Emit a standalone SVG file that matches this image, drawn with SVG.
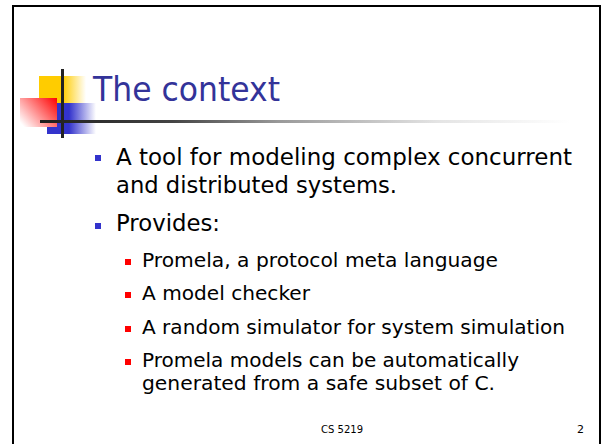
<svg xmlns="http://www.w3.org/2000/svg" width="602" height="444" viewBox="0 0 602 444">
  <style>
    .title { font-family: "DejaVu Sans", Tahoma, sans-serif; font-size: 33px; fill: #333399; }
    .l1 { font-family: "DejaVu Sans", Tahoma, sans-serif; font-size: 23px; fill: #000; }
    .l2 { font-family: "DejaVu Sans", Tahoma, sans-serif; font-size: 20px; fill: #000; }
    .foot { font-family: "DejaVu Sans", Tahoma, sans-serif; font-size: 11px; fill: #000; }
    .b1 { fill: #3333cc; }
    .b2 { fill: #ff0000; }
  </style>
  <defs>
    <linearGradient id="gYellow" gradientUnits="userSpaceOnUse" x1="39" y1="0" x2="86" y2="0">
      <stop offset="0" stop-color="#ffcc00"/>
      <stop offset="0.5" stop-color="#ffcc00"/>
      <stop offset="1" stop-color="#ffffff"/>
    </linearGradient>
    <linearGradient id="gBlue" gradientUnits="userSpaceOnUse" x1="47" y1="0" x2="96" y2="0">
      <stop offset="0" stop-color="#3333cc"/>
      <stop offset="0.45" stop-color="#3333cc"/>
      <stop offset="1" stop-color="#ffffff"/>
    </linearGradient>
    <linearGradient id="gRed" gradientUnits="userSpaceOnUse" x1="57" y1="98" x2="24" y2="127">
      <stop offset="0" stop-color="#ff0000"/>
      <stop offset="1" stop-color="#ffffff"/>
    </linearGradient>
    <linearGradient id="gRule" gradientUnits="userSpaceOnUse" x1="40" y1="0" x2="570" y2="0">
      <stop offset="0" stop-color="#1e1e1e"/>
      <stop offset="0.25" stop-color="#444444"/>
      <stop offset="0.45" stop-color="#999999"/>
      <stop offset="0.75" stop-color="#e4e4e4"/>
      <stop offset="1" stop-color="#ffffff"/>
    </linearGradient>
  </defs>

  <rect width="602" height="444" fill="#ffffff"/>

  <!-- slide frame, open at the bottom -->
  <path id="frame" d="M13 444 V6 H600 V444" fill="none" stroke="#000" stroke-width="2"/>

  <!-- title ornament -->
  <g id="ornament">
    <rect x="39" y="76" width="47" height="27" fill="url(#gYellow)"/>
    <rect x="47" y="103" width="49" height="31" fill="url(#gBlue)"/>
    <rect x="20" y="98" width="37" height="29" fill="url(#gRed)"/>
    <rect x="61" y="69" width="3" height="69" fill="#222"/>
    <rect x="40" y="120" width="530" height="3" fill="url(#gRule)"/>
  </g>

  <g id="title">
    <text class="title" x="93" y="101" textLength="187" lengthAdjust="spacingAndGlyphs">The context</text>
  </g>

  <g id="bullets">
    <rect class="b1" x="95" y="155" width="6" height="6"/>
    <text class="l1" x="116" y="165" textLength="456" lengthAdjust="spacingAndGlyphs">A tool for modeling complex concurrent</text>
    <text class="l1" x="116" y="193" textLength="281" lengthAdjust="spacingAndGlyphs">and distributed systems.</text>

    <rect class="b1" x="95" y="223" width="6" height="6"/>
    <text class="l1" x="116" y="231" textLength="104" lengthAdjust="spacingAndGlyphs">Provides:</text>

    <rect class="b2" x="125" y="259" width="6" height="6"/>
    <text class="l2" x="142" y="267" textLength="356" lengthAdjust="spacingAndGlyphs">Promela, a protocol meta language</text>

    <rect class="b2" x="125" y="292" width="6" height="6"/>
    <text class="l2" x="142" y="300" textLength="168" lengthAdjust="spacingAndGlyphs">A model checker</text>

    <rect class="b2" x="125" y="326" width="6" height="6"/>
    <text class="l2" x="142" y="334" textLength="423" lengthAdjust="spacingAndGlyphs">A random simulator for system simulation</text>

    <rect class="b2" x="125" y="359" width="6" height="6"/>
    <text class="l2" x="142" y="367" textLength="377" lengthAdjust="spacingAndGlyphs">Promela models can be automatically</text>
    <text class="l2" x="142" y="390" textLength="353" lengthAdjust="spacingAndGlyphs">generated from a safe subset of C.</text>
  </g>

  <g id="footer">
    <text class="foot" x="321" y="433" textLength="42" lengthAdjust="spacingAndGlyphs">CS 5219</text>
    <text class="foot" x="577" y="433">2</text>
  </g>
</svg>
